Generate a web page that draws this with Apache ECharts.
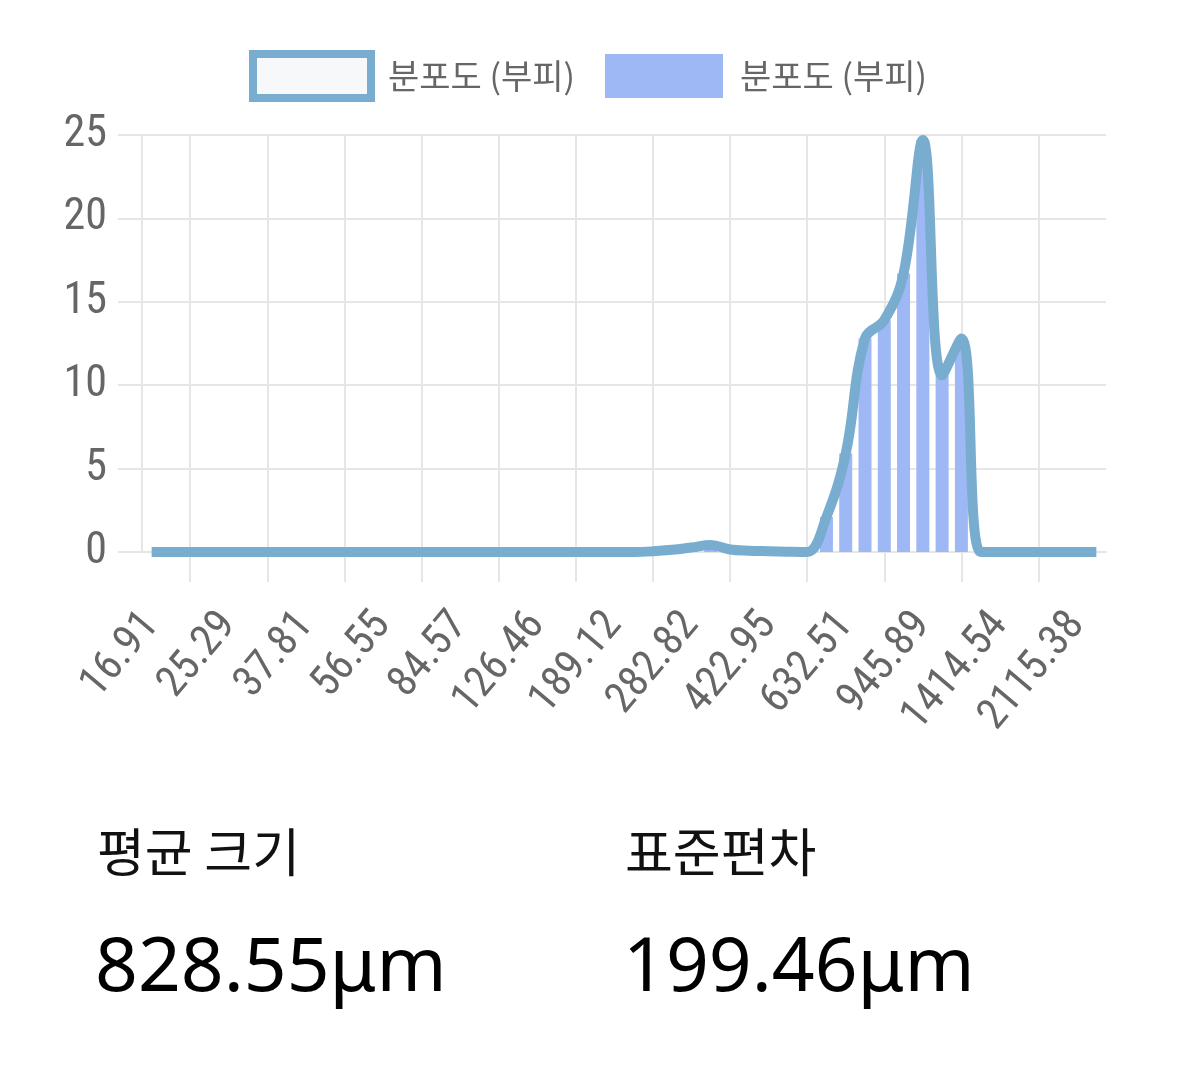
<!DOCTYPE html>
<html><head><meta charset="utf-8">
<script src="https://cdn.jsdelivr.net/npm/echarts@6/dist/echarts.min.js"></script>
<style>html,body{margin:0;padding:0;background:#fff;}#c{width:1179px;height:1068px;}</style>
</head><body><div id="c"></div>
<script>
// x categories (particle size, µm) - every 4th is labelled
const categories = [
  '16.91','18.70','20.68','22.87','25.29','27.97','30.93','34.20',
  '37.81','41.81','46.24','51.14','56.55','62.54','69.16','76.48',
  '84.57','93.52','103.43','114.38','126.46','139.85','154.66','171.03',
  '189.12','209.14','231.29','255.78','282.82','312.77','345.88','382.50',
  '422.95','467.73','517.26','572.02','632.51','699.48','773.54','855.44',
  '945.89','1046.04','1156.79','1279.28','1414.54','1564.31','1729.93','1913.11',
  '2115.38','2339.36'
];
// distribution (volume) - line
const lineValues = [
  0,0,0,0,0,0,0,0,0,0,
  0,0,0,0,0,0,0,0,0,0,
  0,0,0,0,0,0,0.04,0.13,0.27,0.42,
  0.15,0.08,0.05,0.02,0,2.1,5.9,12.8,13.9,16.7,
  24.7,10.6,12.8,0,0,0,0,0,0,0
];
// distribution (volume) - bars
const barValues = [
  0,0,0,0,0,0,0,0,0,0,
  0,0,0,0,0,0,0,0,0,0,
  0,0,0,0,0,0,0.04,0.13,0.27,0.42,
  0.15,0.08,0.05,0.02,0,2.1,5.9,12.8,13.9,16.7,
  24.7,10.6,12.8,0,0,0,0,0,0,0
];
const yMin = 0, yMax = 25, yStep = 5;
const seriesNames = ['분포도 (부피)', '분포도 (부피) '];
const summaryLabels = ['평균 크기', '표준편차'];
const summaryValues = ['828.55μm', '199.46μm'];

const gridCol = '#e6e6e6';
const lineCol = '#79adcf';
const barCol = '#9eb7f5';
const narrow = "'Liberation Sans Narrow','Roboto Condensed','DejaVu Sans Condensed','Liberation Sans',sans-serif";

const chart = echarts.init(document.getElementById('c'), null, {renderer: 'canvas'});
chart.setOption({
  animation: false,
  backgroundColor: '#ffffff',
  legend: {
    left: 244, top: 45, itemWidth: 118, itemHeight: 44, itemGap: 30,
    textStyle: {fontFamily: "'Noto Sans CJK KR'", fontSize: 34, color: '#666', padding: [0, 0, 0, 12]},
    data: [
      {name: seriesNames[0], icon: 'rect', itemStyle: {color: '#f6f8fa', borderColor: lineCol, borderWidth: 8}},
      {name: seriesNames[1], icon: 'rect', itemStyle: {color: barCol}}
    ]
  },
  grid: {left: 142, right: 73, top: 135, bottom: 516, containLabel: false},
  xAxis: {
    type: 'category', data: categories, boundaryGap: true,
    axisLine: {show: true, lineStyle: {color: gridCol, width: 2}},
    axisTick: {show: true, alignWithLabel: true, length: 30, interval: (i) => i % 4 === 2, lineStyle: {color: gridCol, width: 2}},
    splitLine: {show: true, alignWithLabel: true, interval: (i) => i % 4 === 2, lineStyle: {color: gridCol, width: 2}},
    axisLabel: {interval: (i) => i % 4 === 0, rotate: 50, margin: 66, fontSize: 43, fontFamily: narrow, color: '#666'}
  },
  yAxis: {
    type: 'value', min: yMin, max: yMax, interval: yStep,
    axisLine: {show: true, lineStyle: {color: gridCol, width: 2}},
    axisTick: {show: true, length: 24, lineStyle: {color: gridCol, width: 2}},
    splitLine: {show: true, lineStyle: {color: gridCol, width: 2}},
    axisLabel: {margin: 35, fontSize: 44, fontFamily: narrow, color: '#666'}
  },
  series: [
    {type: 'bar', name: seriesNames[1], data: barValues, barWidth: 13, itemStyle: {color: barCol}, z: 2},
    {type: 'line', name: seriesNames[0], data: lineValues, smooth: 0.4, showSymbol: false, symbol: 'none',
     lineStyle: {width: 10, color: lineCol}, itemStyle: {color: lineCol}, z: 3}
  ],
  graphic: [
    {type: 'text', left: 97, top: 826, style: {text: summaryLabels[0], font: "52px 'Noto Sans CJK KR'", fill: '#111'}},
    {type: 'text', left: 625, top: 826, style: {text: summaryLabels[1], font: "52px 'Noto Sans CJK KR'", fill: '#111'}},
    {type: 'text', left: 95, top: 932, style: {text: summaryValues[0], font: "75px 'Noto Sans'", fill: '#000'}},
    {type: 'text', left: 623, top: 932, style: {text: summaryValues[1], font: "75px 'Noto Sans'", fill: '#000'}}
  ]
});
</script>
</body></html>
